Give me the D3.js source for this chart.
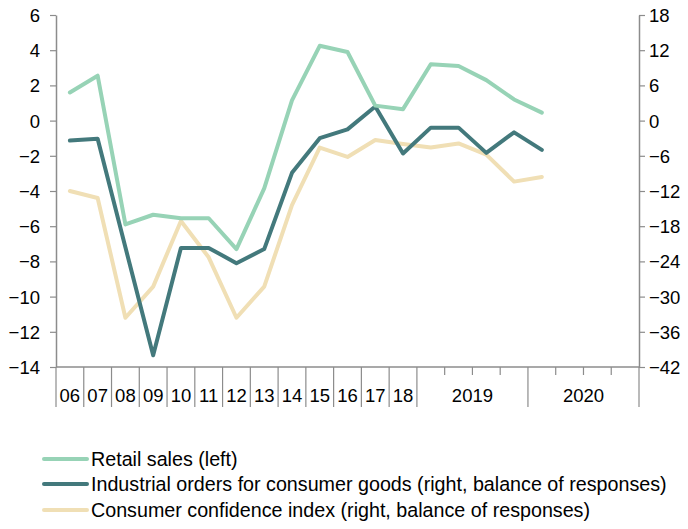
<!DOCTYPE html>
<html>
<head>
<meta charset="utf-8">
<script src="https://cdn.jsdelivr.net/npm/d3@7"></script>
<style>
  html, body { margin: 0; padding: 0; background: #fff; }
  svg text { font-family: "Liberation Sans", Arial, sans-serif; fill: #000; }
</style>
</head>
<body>
<svg id="chart" width="688" height="529"></svg>
<script>
// ---- data ----
const categories = ["06","07","08","09","10","11","12","13","14","15","16","17","18",
  "2019Q1","2019Q2","2019Q3","2019Q4","2020Q1","2020Q2","2020Q3","2020Q4"];
const groupLabels = [
  {label:"06", from:0, to:0},{label:"07", from:1, to:1},{label:"08", from:2, to:2},
  {label:"09", from:3, to:3},{label:"10", from:4, to:4},{label:"11", from:5, to:5},
  {label:"12", from:6, to:6},{label:"13", from:7, to:7},{label:"14", from:8, to:8},
  {label:"15", from:9, to:9},{label:"16", from:10, to:10},{label:"17", from:11, to:11},
  {label:"18", from:12, to:12},{label:"2019", from:13, to:16},{label:"2020", from:17, to:20}
];
const retailSales = [1.6, 2.55, -5.9, -5.35, -5.55, -5.55, -7.3, -3.85, 1.15, 4.25, 3.9,
  0.85, 0.65, 3.2, 3.1, 2.3, 1.2, 0.45];
const industrialOrders = [-3.4, -3.1, -21.6, -40.0, -21.7, -21.7, -24.3, -21.9, -8.9, -3.0, -1.5,
  2.4, -5.6, -1.2, -1.2, -5.5, -2.0, -5.0];
const consumerConfidence = [-12.0, -13.2, -33.6, -28.3, -17.1, -23.3, -33.6, -28.3, -14.4, -4.6, -6.2,
  -3.3, -4.0, -4.6, -3.9, -5.8, -10.4, -9.6];
const leftTicks = [6, 4, 2, 0, -2, -4, -6, -8, -10, -12, -14];
const rightTicks = [18, 12, 6, 0, -6, -12, -18, -24, -30, -36, -42];
const seriesNames = ["Retail sales (left)",
  "Industrial orders for consumer goods (right, balance of responses)",
  "Consumer confidence index (right, balance of responses)"];
const seriesColors = ["#97D3B6", "#43797C", "#F0DFB5"];

// ---- layout ----
const svg = d3.select("#chart");
const X0 = 56, X1 = 639, YT = 15, YB = 367;
const x = d3.scaleBand().domain(d3.range(categories.length)).range([X0, X1]).padding(0);
const yL = d3.scaleLinear().domain([-14, 6]).range([YB, YT]);
const yR = d3.scaleLinear().domain([-42, 18]).range([YB, YT]);
const axisColor = "#8C8C8C";
const tickFont = "18.5px";

// left axis
const gL = svg.append("g").attr("transform", `translate(${X0},0)`)
  .call(d3.axisLeft(yL).tickValues(leftTicks).tickSize(6).tickSizeOuter(0).tickFormat(d3.format("d")));
gL.select(".domain").attr("stroke", axisColor).attr("stroke-width", 1.5);
gL.selectAll(".tick line").attr("stroke", axisColor).attr("stroke-width", 1.2);
gL.selectAll(".tick text").attr("x", -16).attr("dy", "0.35em").style("font-size", tickFont).attr("font-family", null);

// right axis
const gR = svg.append("g").attr("transform", `translate(${X1},0)`)
  .call(d3.axisRight(yR).tickValues(rightTicks).tickSize(6).tickSizeOuter(0).tickFormat(d3.format("d")));
gR.select(".domain").attr("stroke", axisColor).attr("stroke-width", 1.5);
gR.selectAll(".tick line").attr("stroke", axisColor).attr("stroke-width", 1.2);
gR.selectAll(".tick text").attr("x", 10).attr("dy", "0.35em").style("font-size", tickFont).attr("font-family", null);

// bottom axis (multi-level)
const gB = svg.append("g");
gB.append("line").attr("x1", X0).attr("x2", X1).attr("y1", YB).attr("y2", YB)
  .attr("stroke", axisColor).attr("stroke-width", 1.5);
const boundaries = d3.range(categories.length + 1);
const groupStarts = new Set(groupLabels.map(g => g.from).concat([categories.length]));
gB.selectAll("line.tk").data(boundaries).join("line").attr("class", "tk")
  .attr("x1", i => i < categories.length ? x(i) : X1)
  .attr("x2", i => i < categories.length ? x(i) : X1)
  .attr("y1", YB)
  .attr("y2", i => groupStarts.has(i) ? YB + 40 : YB + 8)
  .attr("stroke", axisColor).attr("stroke-width", 1.2);
gB.selectAll("text.gl").data(groupLabels).join("text").attr("class", "gl")
  .attr("x", g => (x(g.from) + x(g.to) + x.bandwidth()) / 2)
  .attr("y", YB + 35)
  .attr("text-anchor", "middle")
  .style("font-size", tickFont)
  .text(g => g.label);

// lines
const allSeries = [
  {vals: retailSales, scale: yL},
  {vals: industrialOrders, scale: yR},
  {vals: consumerConfidence, scale: yR}
];
const drawOrder = [2, 1, 0];
drawOrder.forEach(si => {
  const s = allSeries[si];
  const line = d3.line().x((d, i) => x(i) + x.bandwidth() / 2).y(d => s.scale(d));
  svg.append("path").datum(s.vals)
    .attr("fill", "none").attr("stroke", seriesColors[si])
    .attr("stroke-width", 4).attr("stroke-linejoin", "round").attr("stroke-linecap", "round")
    .attr("d", line);
});

// legend
const lg = svg.append("g");
const legY = [459, 484, 510];
seriesNames.forEach((n, i) => {
  lg.append("line").attr("x1", 44).attr("x2", 87).attr("y1", legY[i]).attr("y2", legY[i])
    .attr("stroke", seriesColors[i]).attr("stroke-width", 4).attr("stroke-linecap", "round");
  lg.append("text").attr("x", 91).attr("y", legY[i] + 7).style("font-size", "19.7px").text(n);
});
</script>
</body>
</html>
